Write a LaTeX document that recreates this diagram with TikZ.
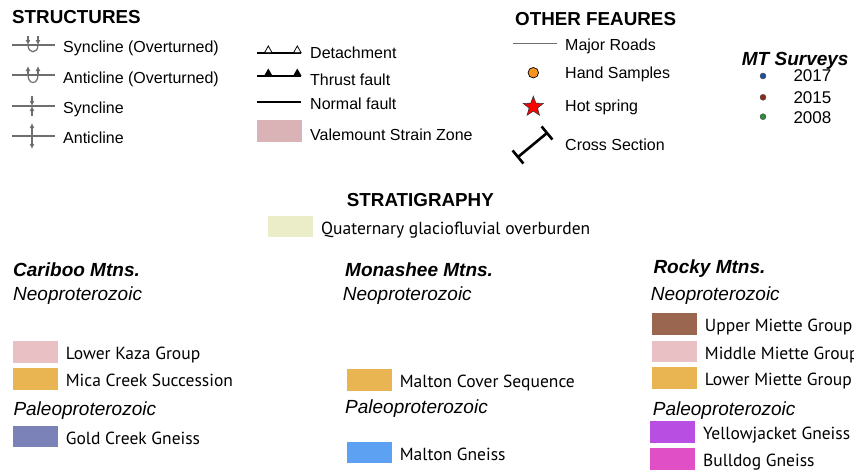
\documentclass[tikz,border=0pt]{standalone}
\usepackage{fontspec}
\setmainfont{Liberation Sans}
\newfontfamily\unitfont{PT Sans}
\usetikzlibrary{arrows.meta,shapes.geometric,calc}

\definecolor{foldgray}{HTML}{6E6E6E}
\definecolor{vszpink}{HTML}{D9B3B5}
\definecolor{kazapink}{HTML}{E9C0C3}
\definecolor{creekorange}{HTML}{E9B553}
\definecolor{goldblue}{HTML}{7A82B8}
\definecolor{maltonblue}{HTML}{5DA2F2}
\definecolor{miettebrown}{HTML}{9B6650}
\definecolor{jacketpurple}{HTML}{B94FE2}
\definecolor{bulldogpink}{HTML}{E14FC6}
\definecolor{quatyellow}{HTML}{EBEDC9}
\definecolor{sampleorange}{HTML}{F7941D}
\definecolor{mtblue}{HTML}{1F4E9A}
\definecolor{mtred}{HTML}{8B2A1A}
\definecolor{mtgreen}{HTML}{2E8B3A}

\tikzset{
  lbl/.style={anchor=base west, inner sep=0pt, font=\fontsize{16}{18}\selectfont},
  hdr/.style={anchor=base west, inner sep=0pt, font=\fontsize{18.8}{22}\selectfont\bfseries},
  mtnhdr/.style={anchor=base west, inner sep=0pt, font=\fontsize{19}{22}\selectfont\bfseries\itshape},
  era/.style={anchor=base west, inner sep=0pt, font=\fontsize{19}{22}\selectfont\itshape},
  unitlbl/.style={anchor=base west, inner sep=0pt, font=\unitfont\fontsize{17.5}{20}\selectfont},
  fold/.style={draw=foldgray, line width=1.2pt},
  foldthick/.style={draw=foldgray, line width=1.8pt},
  tip/.style={-{Latex[length=5pt,width=5pt]}},
  fault/.style={line width=1.6pt},
  xsec/.style={line width=2.6pt},
  mtdot/.style={circle, draw=black!70, line width=0.4pt, inner sep=0pt, minimum size=6pt}
}

\begin{document}
\begin{tikzpicture}[x=1pt,y=-1pt]

  \useasboundingbox (0,0) rectangle (854,469);

  \newcommand\unitW{45}
  \newcommand\unitH{21.5}
  \newcommand\stratunit[5]{%
    \fill[#4] (#2,#3) rectangle ++(\unitW,\unitH);
    \node[unitlbl] (#1) at (#2+53,#3+18.5) {#5};
  }

  %% structures
  \node[hdr] (structures) at (12,23.3) {STRUCTURES};

  \draw[fold] (12,45) -- (55,45); % syncline (overturned)
  \draw[fold] (28,45) .. controls (28,54) and (38,54) .. (38,45);
  \draw[fold,tip] (28,36) -- (28,45);
  \draw[fold,tip] (38,36) -- (38,45);
  \node[lbl] (synover) at (63,52.7) {Syncline (Overturned)};

  \draw[foldthick] (12,75) -- (55,75); % anticline (overturned)
  \draw[fold] (28,75) .. controls (28,85) and (38,85) .. (38,75);
  \draw[fold,tip] (28,75) -- (28,66);
  \draw[fold,tip] (38,75) -- (38,66);
  \node[lbl] (antiover) at (63,83.3) {Anticline (Overturned)};

  \draw[fold] (12,106) -- (55,106); % syncline
  \draw[fold,tip] (32,96) -- (32,106);
  \draw[fold,tip] (32,116) -- (32,106);
  \node[lbl] (syn) at (63,113) {Syncline};

  \draw[foldthick] (12,136) -- (55,136); % anticline
  \draw[fold,tip] (32,136) -- (32,123);
  \draw[fold,tip] (32,136) -- (32,149);
  \node[lbl] (anti) at (63,143) {Anticline};

  %% faults
  \draw[fault] (257,52.7) -- (301,52.7); % detachment
  \draw[fill=white, line width=0.8pt] (264.5,52.7) -- (268.3,46) -- (272.1,52.7) -- cycle;
  \draw[fill=white, line width=0.8pt] (293.5,52.7) -- (297.3,46) -- (301.1,52.7) -- cycle;
  \node[lbl] (detach) at (310,58.3) {Detachment};

  \draw[fault] (257,76) -- (301,76); % thrust fault
  \fill (264,76) -- (268.3,68.5) -- (272.6,76) -- cycle;
  \fill (293,76) -- (297.3,68.5) -- (301.6,76) -- cycle;
  \node[lbl] (thrust) at (310,85.5) {Thrust fault};

  \draw[fault] (257,101.7) -- (301,101.7); % normal fault
  \node[lbl] (normal) at (310,109.3) {Normal fault};

  \fill[vszpink] (256.7,120) rectangle (301.7,141.7);
  \node[lbl] (vsz) at (310,140) {Valemount Strain Zone};

  %% other features
  \node[hdr] (other) at (515,25) {OTHER FEAURES};

  \draw[foldgray, line width=1.5pt] (512.7,43.3) -- (556.7,43.3);
  \node[lbl] (roads) at (565,50) {Major Roads};

  \node[circle, fill=sampleorange, draw=black, line width=0.7pt, inner sep=0pt, minimum size=10.5pt] (sample) at (533.3,72.7) {};
  \node[lbl] (samples) at (565,78.3) {Hand Samples};

  \node[star, star points=5, star point ratio=2.4, fill=red, draw=black!80, line width=0.6pt, inner sep=0pt, minimum size=21pt] (spring) at (533.3,106.7) {};
  \node[lbl] (hotspring) at (565,111.7) {Hot spring};

  \coordinate (xsA) at (518,157);
  \coordinate (xsB) at (547,133);
  \draw[xsec] (xsA) -- (xsB);
  \draw[xsec] ($(xsA)!8.5pt!90:(xsB)$) -- ($(xsA)!8.5pt!-90:(xsB)$);
  \draw[xsec] ($(xsB)!8.5pt!90:(xsA)$) -- ($(xsB)!8.5pt!-90:(xsA)$);
  \node[lbl] (xsection) at (565,150) {Cross Section};

  %% MT surveys
  \node[mtnhdr] (mt) at (741.7,65) {MT Surveys};
  \node[mtdot, fill=mtblue] (dot17) at (763,76) {};
  \node[lbl, font=\fontsize{17}{19}\selectfont] (yr17) at (793.3,81.7) {2017};
  \node[mtdot, fill=mtred] (dot15) at (763,97.3) {};
  \node[lbl, font=\fontsize{17}{19}\selectfont] (yr15) at (793.3,103.3) {2015};
  \node[mtdot, fill=mtgreen] (dot08) at (763,116.7) {};
  \node[lbl, font=\fontsize{17}{19}\selectfont] (yr08) at (793.3,123.3) {2008};

  %% stratigraphy
  \node[hdr] (strat) at (346.7,206.7) {STRATIGRAPHY};
  \stratunit{quat}{268}{215.5}{quatyellow}{Quaternary glaciofluvial overburden}

  \node[mtnhdr] (cariboo) at (13,276.7) {Cariboo Mtns.};
  \node[era] (cneo) at (13,300) {Neoproterozoic};
  \stratunit{kaza}{12.7}{341}{kazapink}{Lower Kaza Group}
  \stratunit{mica}{12.7}{368}{creekorange}{Mica Creek Succession}
  \node[era] (cpaleo) at (13.3,415.5) {Paleoproterozoic};
  \stratunit{gold}{12.7}{425.5}{goldblue}{Gold Creek Gneiss}

  \node[mtnhdr] (monashee) at (345,276.7) {Monashee Mtns.};
  \node[era] (mneo) at (342.7,300) {Neoproterozoic};
  \stratunit{cover}{346.7}{369.3}{creekorange}{Malton Cover Sequence}
  \node[era] (mpaleo) at (345,413) {Paleoproterozoic};
  \stratunit{malton}{346.7}{441.7}{maltonblue}{Malton Gneiss}

  \node[mtnhdr] (rocky) at (653.3,273) {Rocky Mtns.};
  \node[era] (rneo) at (650.7,300.5) {Neoproterozoic};
  \stratunit{upper}{651.7}{313.3}{miettebrown}{Upper Miette Group}
  \stratunit{middle}{651.7}{340.7}{kazapink}{Middle Miette Group}
  \stratunit{lower}{651.7}{367.3}{creekorange}{Lower Miette Group}
  \node[era] (rpaleo) at (652.7,415) {Paleoproterozoic};
  \stratunit{yellow}{650}{421}{jacketpurple}{Yellowjacket Gneiss}
  \stratunit{bulldog}{650}{448}{bulldogpink}{Bulldog Gneiss}

\end{tikzpicture}
\end{document}
